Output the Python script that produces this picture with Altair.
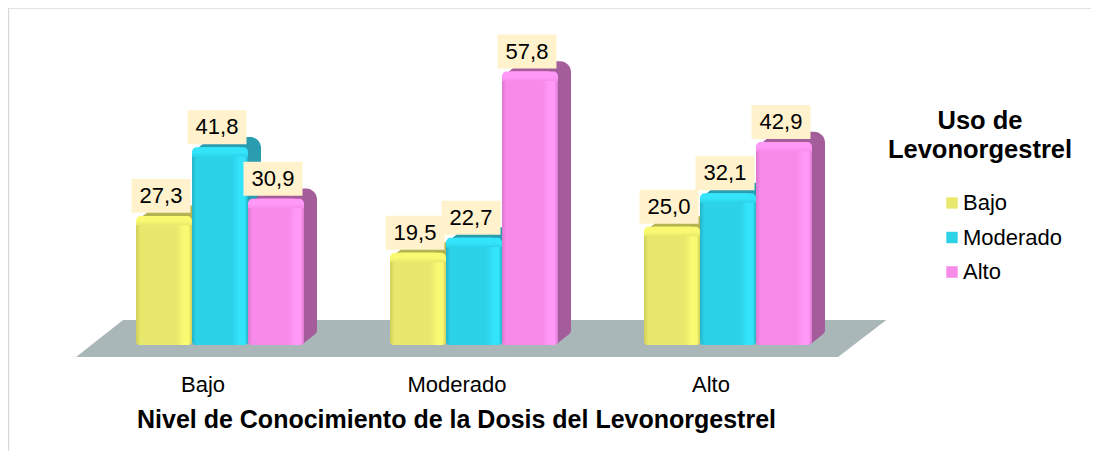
import altair as alt
import pandas as pd

categories = ["Bajo", "Moderado", "Alto"]
series = ["Bajo", "Moderado", "Alto"]
values_bajo = [27.3, 19.5, 25.0]
values_moderado = [41.8, 22.7, 32.1]
values_alto = [30.9, 57.8, 42.9]
all_values = [values_bajo, values_moderado, values_alto]

body = ["#E8E86C", "#2CD3E8", "#F88AEA"]
light = ["#F9F972", "#33E4FA", "#FF98F6"]
dark = ["#CFCF5A", "#22B4C8", "#DC78CE"]
side = ["#B4B452", "#2A9DB0", "#A45E9A"]

rows = []
for s, vals in zip(series, all_values):
    for c, v in zip(categories, vals):
        rows.append({"cat": c, "ser": s, "val": v, "cap": v - 2.0,
                     "label": f"{v:.1f}".replace(".", ",")})
df = pd.DataFrame(rows)

floor = pd.DataFrame({
    "fx": [0.0, 0.185, 3.0, 3.19],
    "top": [-2.54, 5.28, 5.28, 5.28],
    "bot": [-2.54, -2.54, -2.54, 5.28],
})

W, H = 1083, 443
FONT = "Liberation Sans"
DEPTH = 13
FRONT = 17
RADIUS = 11
Y_DOMAIN = [-22.41, 71.25]


def x_band(shift, axis=None):
    return alt.X("cat:N", sort=categories,
                 scale=alt.Scale(domain=categories, range=[68 + shift, 830 + shift],
                                 paddingInner=0, paddingOuter=0),
                 axis=axis)


x_off = alt.XOffset("ser:N", sort=series,
                    scale=alt.Scale(type="band", domain=series, paddingInner=0, paddingOuter=0.768))
y_val = alt.Y("val:Q", stack=None,
              scale=alt.Scale(domain=Y_DOMAIN, nice=False, zero=False), axis=None)

main_axis = alt.Axis(title="Nivel de Conocimiento de la Dosis del Levonorgestrel",
                     domain=False, ticks=False, labelAngle=0, labelFont=FONT,
                     labelFontSize=22, labelColor="#000000", labelPadding=11, labelOffset=-FRONT,
                     offset=-88, titleFont=FONT, titleFontSize=25, titleFontWeight="bold",
                     titleColor="#000000", titlePadding=12, titleX=448, grid=False)

base = alt.Chart(df)
layers = []

frame = pd.DataFrame({"k": [0]})
layers.append(alt.Chart(frame).mark_rule(color="#D9D9D9", strokeWidth=1.5).encode(
    x=alt.value(0.5), y=alt.value(0), y2=alt.value(H)))
layers.append(alt.Chart(frame).mark_rule(color="#D9D9D9", strokeWidth=1.5).encode(
    x=alt.value(0), x2=alt.value(W), y=alt.value(0)))

layers.append(alt.Chart(floor).mark_area(color="#A9B7B8", interpolate="linear").encode(
    x=alt.X("fx:Q", scale=alt.Scale(domain=[-0.268, 3.996], nice=False, zero=False), axis=None),
    y=alt.Y("top:Q", scale=alt.Scale(domain=Y_DOMAIN, nice=False, zero=False), axis=None),
    y2="bot:Q",
))

# extruded depth of each bar
for k in range(DEPTH, 0, -1):
    dy = -k * 0.8
    for s, col in zip(series, side):
        layers.append(
            base.transform_filter(alt.datum.ser == s)
            .mark_bar(size=56, color=col, cornerRadiusTopLeft=RADIUS, cornerRadiusTopRight=RADIUS,
                      cornerRadiusBottomRight=4, yOffset=dy, y2Offset=dy)
            .encode(x=x_band(FRONT + k), xOffset=x_off, y=y_val, y2=alt.Y2(datum=0))
        )

# front faces, which also carry the legend and the axis
layers.append(
    base.mark_bar(size=56, cornerRadiusTopLeft=RADIUS, cornerRadiusTopRight=RADIUS,
                  cornerRadiusBottomLeft=4, cornerRadiusBottomRight=4)
    .encode(x=x_band(FRONT, main_axis), xOffset=x_off, y=y_val, y2=alt.Y2(datum=0),
            color=alt.Color("ser:N", sort=series,
                            scale=alt.Scale(domain=series, range=body),
                            legend=alt.Legend(title=None, orient="none", legendX=933, legendY=184,
                                              labelFont=FONT, labelFontSize=22, labelColor="#000000",
                                              symbolType="square", symbolSize=130, symbolStrokeWidth=1,
                                              rowPadding=12.5, labelOffset=0)))
)

# shaded faces and lighter top band
for s, b, l, d in zip(series, body, light, dark):
    grad = alt.Gradient(gradient="linear", x1=0, x2=1, y1=0, y2=0, stops=[
        alt.GradientStop(color=d, offset=0), alt.GradientStop(color=b, offset=0.08),
        alt.GradientStop(color=b, offset=0.72), alt.GradientStop(color=l, offset=0.85),
        alt.GradientStop(color=l, offset=0.94), alt.GradientStop(color=d, offset=1)])
    cap_grad = alt.Gradient(gradient="linear", x1=0, x2=0, y1=0, y2=1, stops=[
        alt.GradientStop(color=l, offset=0), alt.GradientStop(color=l, offset=0.55),
        alt.GradientStop(color=b, offset=1)])
    sub = base.transform_filter(alt.datum.ser == s)
    layers.append(
        sub.mark_bar(size=56, color=grad, cornerRadiusTopLeft=RADIUS, cornerRadiusTopRight=RADIUS,
                     cornerRadiusBottomLeft=4, cornerRadiusBottomRight=4)
        .encode(x=x_band(FRONT), xOffset=x_off, y=y_val, y2=alt.Y2(datum=0))
    )
    layers.append(
        sub.mark_bar(size=56, color=cap_grad, cornerRadiusTopLeft=RADIUS, cornerRadiusTopRight=RADIUS)
        .encode(x=x_band(FRONT), xOffset=x_off, y=y_val, y2=alt.Y2("cap:Q"))
    )

# value labels on cream boxes
layers.append(
    base.mark_point(shape="M-1,-0.576L1,-0.576L1,0.576L-1,0.576Z", filled=True, size=3481,
                    color="#FFF2CC", opacity=1, yOffset=-20)
    .encode(x=x_band(FRONT - 3), xOffset=x_off, y=y_val)
)
layers.append(
    base.mark_text(font=FONT, fontSize=22, color="#000000", dy=-20, baseline="middle", align="center")
    .encode(x=x_band(FRONT - 3), xOffset=x_off, y=y_val, text="label:N")
)

legend_title = pd.DataFrame({"t": ["Uso de", "Levonorgestrel"], "row": [0, 1]})
for r, yy in zip([0, 1], [113, 142]):
    layers.append(
        alt.Chart(legend_title[legend_title.row == r]).mark_text(
            font=FONT, fontSize=25.5, fontWeight="bold", color="#000000", align="center", baseline="middle"
        ).encode(x=alt.value(972), y=alt.value(yy), text="t:N")
    )

chart = (
    alt.layer(*layers)
    .resolve_scale(x="independent", xOffset="independent")
    .properties(width=W, height=H, padding=0, autosize=alt.AutoSizeParams(type="none"),
                background="white")
    .configure_view(stroke=None)
)
chart.save("out.html", embed_options={"renderer": "svg", "actions": False})
